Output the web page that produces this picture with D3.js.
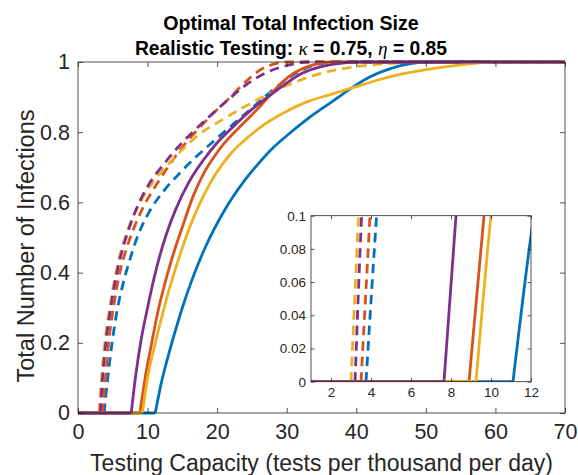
<!DOCTYPE html>
<html>
<head>
<meta charset="utf-8">
<script src="https://cdn.jsdelivr.net/npm/d3@7"></script>
<style>
  html, body { margin: 0; padding: 0; background: #fff; }
  svg { display: block; }
  text { font-family: "Liberation Sans", Arial, sans-serif; }
</style>
</head>
<body>
<svg id="chart" width="578" height="475"></svg>
<script>
// ---------- data ----------
const seriesNames = ["blue", "red", "yellow", "purple"];
const seriesColors = ["#0072BD", "#D95319", "#EDB120", "#7E2F8E"];

// solid curves: [x, y]
const blueSolid = [[0,0],[11.1,0],[12,0.088],[13,0.165],[14,0.235],[15,0.3],[16.3,0.375],[18.25,0.47],[20.9,0.572],[24,0.664],[26,0.712],[28,0.755],[30,0.79],[33,0.838],[36,0.88],[38,0.908],[40,0.935],[42,0.958],[45,0.982],[48,0.996],[50,1],[70,1]];
const redSolid = [[0,0],[8.9,0],[9.65,0.1],[10.5,0.19],[11.5,0.29],[12.5,0.37],[13.5,0.44],[15,0.53],[16.5,0.615],[18,0.68],[19.5,0.728],[21,0.768],[23,0.81],[24.7,0.844],[26,0.87],[27.8,0.91],[29.5,0.945],[31,0.968],[33,0.987],[35,0.997],[36.5,1],[70,1]];
const yellowSolid = [[0,0],[9.25,0],[10,0.1],[11,0.19],[12,0.27],[13,0.345],[14,0.41],[15.6,0.505],[17,0.575],[19,0.655],[22,0.74],[24.7,0.79],[27,0.825],[30,0.86],[33,0.887],[36.7,0.91],[40,0.93],[43,0.948],[46,0.963],[50,0.978],[55,0.992],[60,1],[70,1]];
const purpleSolid = [[0,0],[7.65,0],[8.25,0.1],[9,0.2],[10,0.3],[11,0.39],[12,0.465],[12.8,0.515],[14,0.578],[16,0.66],[18,0.72],[20,0.77],[22,0.81],[24.7,0.86],[27.8,0.908],[30,0.94],[32,0.966],[35,0.987],[38,0.997],[40,1],[70,1]];

// dashed curves
const blueDashed = [[0,0],[3.75,0],[4.28,0.1],[4.9,0.2],[5.6,0.29],[6.5,0.37],[7.5,0.44],[8.5,0.5],[9.5,0.545],[10.6,0.585],[12.5,0.637],[14.7,0.685],[17.1,0.732],[19.7,0.778],[22.3,0.823],[25.2,0.872],[28.6,0.93],[31.9,0.975],[34.5,0.994],[37,1],[70,1]];
const redDashed = [[0,0],[3.5,0],[3.95,0.1],[4.4,0.2],[5.1,0.3],[6.0,0.4],[7,0.47],[8.2,0.535],[9.6,0.595],[11.1,0.645],[13,0.703],[15.1,0.76],[17.1,0.805],[19.4,0.853],[21.8,0.898],[24,0.942],[26.6,0.982],[28.5,0.996],[30,1],[70,1]];
const yellowDashed = [[0,0],[3.0,0],[3.38,0.1],[3.85,0.2],[4.55,0.3],[5.45,0.4],[7.3,0.53],[8.8,0.595],[10.3,0.645],[12.9,0.707],[15.1,0.752],[17.5,0.795],[20.7,0.835],[23.7,0.87],[27,0.905],[31.9,0.948],[35,0.968],[39,0.984],[43,0.993],[47,0.998],[50,1],[70,1]];
const purpleDashed = [[0,0],[3.2,0],[3.53,0.1],[4.0,0.2],[4.7,0.3],[5.6,0.4],[7.5,0.535],[8.8,0.6],[10.3,0.655],[12.5,0.713],[14.4,0.758],[16.8,0.806],[19.4,0.854],[21.6,0.893],[24.3,0.937],[27.1,0.97],[30,0.99],[33,1],[70,1]];

const solidSeries = [blueSolid, redSolid, yellowSolid, purpleSolid];
const dashedSeries = [blueDashed, redDashed, yellowDashed, purpleDashed];

const xTicks = [0,10,20,30,40,50,60,70];
const yTicks = [0,0.2,0.4,0.6,0.8,1];
const insetXTicks = [2,4,6,8,10,12];
const insetYTicks = [0,0.02,0.04,0.06,0.08,0.1];

const titleLine1 = "Optimal Total Infection Size";
const xLabel = "Testing Capacity (tests per thousand per day)";
const yLabel = "Total Number of Infections";

// ---------- layout ----------
const svg = d3.select("#chart");
const axisColor = "#262626";
const main = {left: 78, right: 565, top: 62, bottom: 413};
const ins = {left: 311, right: 531, top: 215.7, bottom: 381.7};

const x = d3.scaleLinear().domain([0,70]).range([main.left, main.right]);
const y = d3.scaleLinear().domain([0,1]).range([main.bottom, main.top]);
const xi = d3.scaleLinear().domain([1,12]).range([ins.left, ins.right]);
const yi = d3.scaleLinear().domain([0,0.1]).range([ins.bottom, ins.top]);

const defs = svg.append("defs");
defs.append("clipPath").attr("id","clipMain").append("rect")
  .attr("x", main.left).attr("y", main.top - 3)
  .attr("width", main.right - main.left).attr("height", main.bottom - main.top + 6);
defs.append("clipPath").attr("id","clipInset").append("rect")
  .attr("x", ins.left).attr("y", ins.top)
  .attr("width", ins.right - ins.left).attr("height", ins.bottom - ins.top);

function drawSeries(g, xs, ys, data, color, dashed, lw) {
  // flat leading part (linear) + rising part (monotone)
  let k = 1;
  while (k < data.length && data[k][1] === 0) k++;
  const startIdx = k - 1;
  const flat = data.slice(0, startIdx + 1);
  const rise = data.slice(startIdx);
  const lineLin = d3.line().x(d => xs(d[0])).y(d => ys(d[1]));
  const lineMono = d3.line().x(d => xs(d[0])).y(d => ys(d[1])).curve(d3.curveMonotoneX);
  const common = p => p.attr("fill","none").attr("stroke", color)
    .attr("stroke-width", lw).attr("stroke-linejoin","round")
    .attr("stroke-dasharray", dashed ? "9.5,6" : null);
  common(g.append("path").attr("d", lineLin(flat)));
  common(g.append("path").attr("d", lineMono(rise)));
}

function drawAxes(g, xs, ys, box, xt, yt, opts) {
  const tl = opts.tickLen;
  g.append("rect").attr("x", box.left).attr("y", box.top)
    .attr("width", box.right - box.left).attr("height", box.bottom - box.top)
    .attr("fill","none").attr("stroke", axisColor).attr("stroke-width", 0.8);
  const xAxB = d3.axisBottom(xs).tickValues(xt).tickSizeInner(-tl).tickSizeOuter(0)
    .tickPadding(opts.xPad).tickFormat(opts.xFmt);
  const gb = g.append("g").attr("transform", `translate(0,${box.bottom})`).call(xAxB);
  const xAxT = d3.axisTop(xs).tickValues(xt).tickSizeInner(-tl).tickSizeOuter(0).tickFormat("");
  const gt = g.append("g").attr("transform", `translate(0,${box.top})`).call(xAxT);
  const yAxL = d3.axisLeft(ys).tickValues(yt).tickSizeInner(-tl).tickSizeOuter(0)
    .tickPadding(opts.yPad).tickFormat(opts.yFmt);
  const gl = g.append("g").attr("transform", `translate(${box.left},0)`).call(yAxL);
  const yAxR = d3.axisRight(ys).tickValues(yt).tickSizeInner(-tl).tickSizeOuter(0).tickFormat("");
  const gr = g.append("g").attr("transform", `translate(${box.right},0)`).call(yAxR);
  [gb, gt, gl, gr].forEach(a => {
    a.select(".domain").remove();
    a.selectAll(".tick line").attr("stroke", axisColor).attr("stroke-width", 0.8);
    a.selectAll("text").attr("fill", axisColor)
      .style("font-family", '"Liberation Sans", Arial, sans-serif')
      .style("font-size", opts.fontSize + "px");
  });
}

// ---------- main axes ----------
const gMain = svg.append("g");
gMain.append("rect").attr("x", main.left).attr("y", main.top)
  .attr("width", main.right - main.left).attr("height", main.bottom - main.top).attr("fill","#fff");

const gMainLines = gMain.append("g").attr("clip-path","url(#clipMain)");
dashedSeries.forEach((s,i) => drawSeries(gMainLines, x, y, s, seriesColors[i], true, 2.8));
solidSeries.forEach((s,i) => drawSeries(gMainLines, x, y, s, seriesColors[i], false, 2.8));

const fmtMainY = d => d === 0 ? "0" : d === 1 ? "1" : d3.format(".1f")(d);
drawAxes(gMain, x, y, main, xTicks, yTicks,
  {tickLen: 5, xPad: 11, yPad: 8, fontSize: 21.5, xFmt: d3.format("d"), yFmt: fmtMainY});

// ---------- inset axes ----------
const gIns = svg.append("g");
gIns.append("rect").attr("x", ins.left).attr("y", ins.top)
  .attr("width", ins.right - ins.left).attr("height", ins.bottom - ins.top).attr("fill","#fff");
const gInsLines = gIns.append("g").attr("clip-path","url(#clipInset)");
dashedSeries.forEach((s,i) => drawSeries(gInsLines, xi, yi, s, seriesColors[i], true, 2.8));
solidSeries.forEach((s,i) => drawSeries(gInsLines, xi, yi, s, seriesColors[i], false, 2.8));
const fmtInsY = d => d === 0 ? "0" : d3.format(".2~f")(d);
drawAxes(gIns, xi, yi, ins, insetXTicks, insetYTicks,
  {tickLen: 3.5, xPad: 6, yPad: 5, fontSize: 13.5, xFmt: d3.format("d"), yFmt: fmtInsY});

// ---------- labels ----------
svg.append("text").attr("x", 291).attr("y", 30).attr("text-anchor","middle")
  .style("font-weight","bold").style("font-size","19.6px").attr("fill","#000")
  .text(titleLine1);
const t2 = svg.append("text").attr("x", 291).attr("y", 55).attr("text-anchor","middle")
  .style("font-weight","bold").style("font-size","19.3px").attr("fill","#000");
t2.append("tspan").text("Realistic Testing: ");
t2.append("tspan").style("font-family",'"Liberation Serif", serif').style("font-style","italic")
  .style("font-weight","normal").text("κ");
t2.append("tspan").text(" = 0.75, ");
t2.append("tspan").style("font-family",'"Liberation Serif", serif').style("font-style","italic")
  .style("font-weight","normal").text("η");
t2.append("tspan").text(" = 0.85");

svg.append("text").attr("x", (main.left + main.right)/2).attr("y", 471)
  .attr("text-anchor","middle").style("font-size","23px").attr("fill", axisColor)
  .text(xLabel);
svg.append("text").attr("transform", `translate(34,246) rotate(-90)`)
  .attr("text-anchor","middle").style("font-size","23.5px").attr("fill", axisColor)
  .text(yLabel);
</script>
</body>
</html>
